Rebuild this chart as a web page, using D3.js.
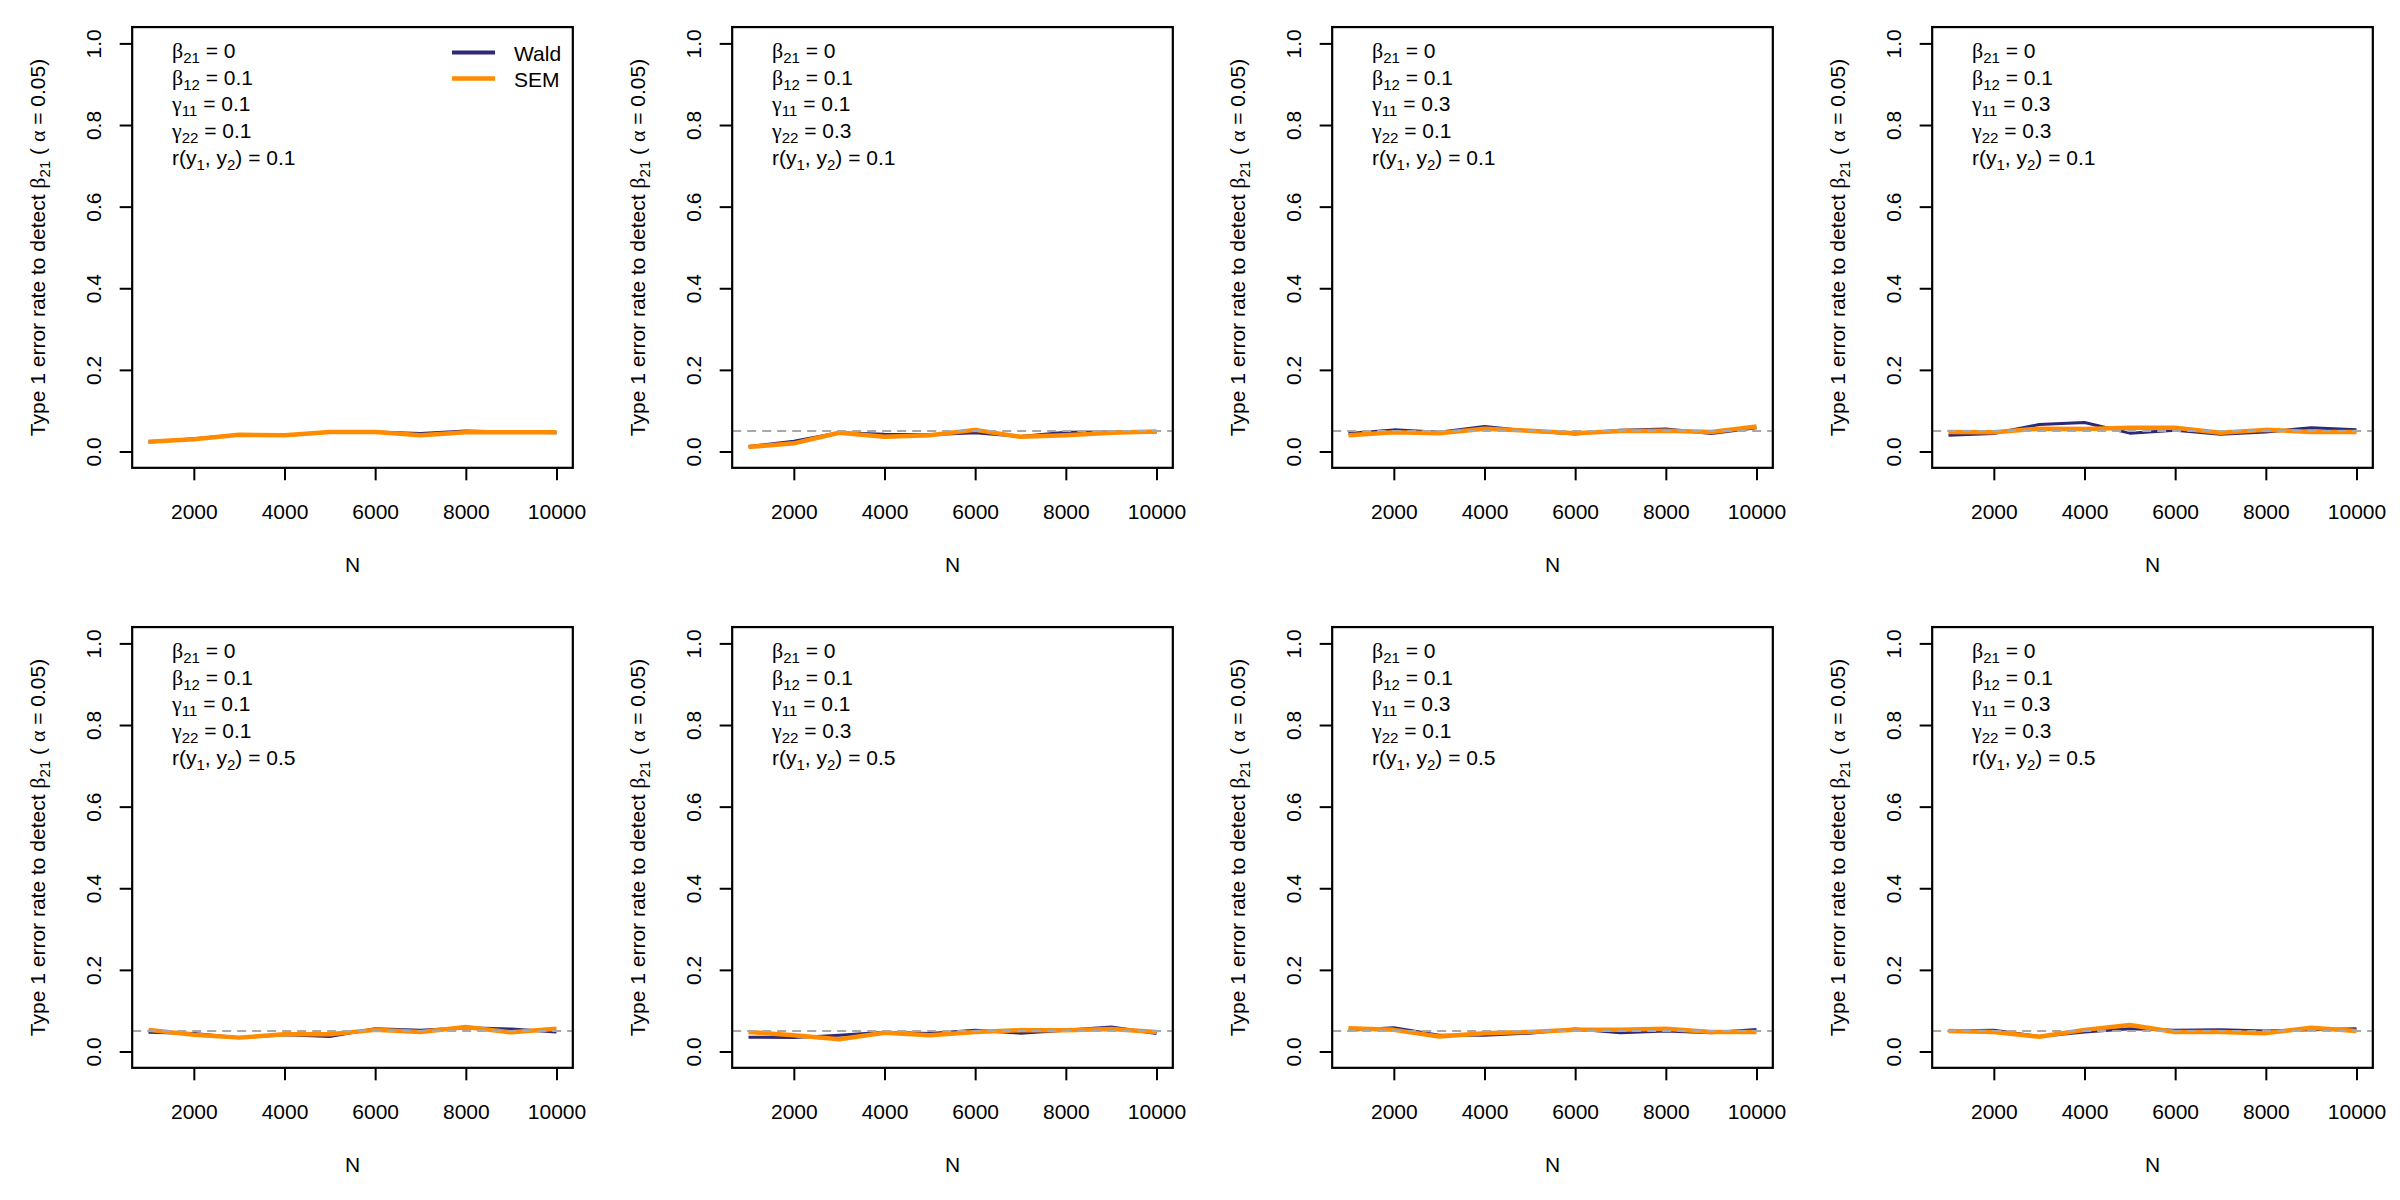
<!DOCTYPE html>
<html>
<head>
<meta charset="utf-8">
<script src="https://cdn.jsdelivr.net/npm/d3@7"></script>
<style>
  html, body { margin: 0; padding: 0; background: #fff; }
  svg { display: block; font-family: "Liberation Sans", Arial, sans-serif; }
  .greek { font-family: "Liberation Serif", "DejaVu Serif", serif; }
</style>
</head>
<body>
<svg id="chart" width="2400" height="1200"></svg>
<script>
// ---- data ----
const sampleSizes = [1000, 2000, 3000, 4000, 5000, 6000, 7000, 8000, 9000, 10000];
const xTickValues = [2000, 4000, 6000, 8000, 10000];
const yTickValues = [0, 0.2, 0.4, 0.6, 0.8, 1.0];

const wald1 = [0.023, 0.031, 0.041, 0.039, 0.048, 0.048, 0.044, 0.050, 0.048, 0.046];
const sem1  = [0.024, 0.030, 0.041, 0.040, 0.048, 0.048, 0.040, 0.047, 0.047, 0.047];
const wald2 = [0.012, 0.025, 0.046, 0.042, 0.041, 0.046, 0.037, 0.047, 0.048, 0.048];
const sem2  = [0.011, 0.020, 0.046, 0.036, 0.040, 0.053, 0.036, 0.040, 0.046, 0.049];
const wald3 = [0.044, 0.053, 0.047, 0.061, 0.050, 0.043, 0.052, 0.055, 0.044, 0.058];
const sem3  = [0.040, 0.047, 0.045, 0.056, 0.051, 0.045, 0.050, 0.051, 0.048, 0.061];
const wald4 = [0.040, 0.044, 0.066, 0.071, 0.045, 0.052, 0.042, 0.048, 0.058, 0.053];
const sem4  = [0.048, 0.047, 0.056, 0.055, 0.058, 0.058, 0.046, 0.053, 0.048, 0.048];
const wald5 = [0.047, 0.044, 0.034, 0.041, 0.037, 0.056, 0.052, 0.058, 0.055, 0.048];
const sem5  = [0.053, 0.041, 0.034, 0.042, 0.042, 0.053, 0.048, 0.060, 0.047, 0.056];
const wald6 = [0.035, 0.034, 0.040, 0.047, 0.044, 0.052, 0.045, 0.052, 0.060, 0.044];
const sem6  = [0.048, 0.040, 0.030, 0.046, 0.040, 0.048, 0.052, 0.052, 0.055, 0.048];
const wald7 = [0.052, 0.058, 0.040, 0.040, 0.045, 0.055, 0.046, 0.050, 0.046, 0.054];
const sem7  = [0.057, 0.053, 0.037, 0.045, 0.048, 0.053, 0.053, 0.056, 0.048, 0.048];
const wald8 = [0.050, 0.052, 0.037, 0.048, 0.056, 0.052, 0.053, 0.050, 0.053, 0.056];
const sem8  = [0.050, 0.048, 0.036, 0.053, 0.065, 0.048, 0.048, 0.045, 0.058, 0.050];

const waldSeries = [wald1, wald2, wald3, wald4, wald5, wald6, wald7, wald8];
const semSeries  = [sem1, sem2, sem3, sem4, sem5, sem6, sem7, sem8];

const beta21Values = ["0", "0", "0", "0", "0", "0", "0", "0"];
const beta12Values = ["0.1", "0.1", "0.1", "0.1", "0.1", "0.1", "0.1", "0.1"];
const gamma11Values = ["0.1", "0.1", "0.3", "0.3", "0.1", "0.1", "0.3", "0.3"];
const gamma22Values = ["0.1", "0.3", "0.1", "0.3", "0.1", "0.3", "0.1", "0.3"];
const corrValues = ["0.1", "0.1", "0.1", "0.1", "0.5", "0.5", "0.5", "0.5"];
const showReference = [false, true, true, true, true, true, true, true];
const alphaLevel = 0.05;

const legendLabels = ["Wald", "SEM"];
const WALD_COLOR = "#2e2878";
const SEM_COLOR = "#ff8c00";

// ---- layout ----
const svg = d3.select("#chart");
const panelW = 600, panelH = 600;
const FS = 21, SUB = 15;

const x = d3.scaleLinear().domain([1000, 10000]).range([148.5, 556.5]);
const y = d3.scaleLinear().domain([0, 1]).range([451.5, 43.4]);
const xPad = (10000 - 1000) * 0.04, yPad = 0.04;
const boxL = x(1000 - xPad), boxR = x(10000 + xPad);
const boxT = y(1 + yPad), boxB = y(0 - yPad);

function addSubText(sel, parts) {
  // parts: array of [text, kind] where kind: 0 normal, 1 subscript, 2 greek
  let shifted = false;
  parts.forEach(([t, kind]) => {
    const ts = sel.append("tspan").text(t);
    if (kind === 2) ts.attr("class", "greek").attr("font-size", FS + 1);
    if (kind === 1) {
      ts.attr("font-size", SUB);
      if (!shifted) { ts.attr("dy", 5); shifted = true; }
    } else if (shifted) { ts.attr("dy", -5); shifted = false; }
  });
}

for (let i = 0; i < 8; i++) {
  const col = i % 4, row = Math.floor(i / 4);
  const g = svg.append("g").attr("transform", `translate(${col * panelW},${row * panelH})`);

  const line = d3.line().x((d, j) => x(sampleSizes[j])).y(d => y(d));

  g.append("path").datum(waldSeries[i])
    .attr("d", line).attr("fill", "none")
    .attr("stroke", WALD_COLOR).attr("stroke-width", 3).attr("stroke-linejoin", "round");
  g.append("path").datum(semSeries[i])
    .attr("d", line).attr("fill", "none")
    .attr("stroke", SEM_COLOR).attr("stroke-width", 4.5).attr("stroke-linejoin", "round");

  if (showReference[i]) {
    g.append("line")
      .attr("x1", boxL).attr("x2", boxR)
      .attr("y1", y(alphaLevel)).attr("y2", y(alphaLevel))
      .attr("stroke", "#a8a8a8").attr("stroke-width", 2)
      .attr("stroke-dasharray", "9,6");
  }

  // box
  g.append("rect").attr("x", boxL).attr("y", boxT)
    .attr("width", boxR - boxL).attr("height", boxB - boxT)
    .attr("fill", "none").attr("stroke", "#000").attr("stroke-width", 2.2);

  // y axis
  const yAxis = g.append("g").attr("transform", `translate(${boxL},0)`)
    .call(d3.axisLeft(y).tickValues(yTickValues).tickFormat(d3.format(".1f")).tickSize(12.5));
  yAxis.select(".domain").remove();
  yAxis.selectAll("line").attr("stroke", "#000").attr("stroke-width", 2);
  yAxis.selectAll("text")
    .attr("x", 0).attr("dy", 0).attr("text-anchor", "middle")
    .attr("transform", "translate(-31.5,0) rotate(-90)")
    .attr("font-size", FS).attr("fill", "#000")
    .attr("font-family", "Liberation Sans, Arial, sans-serif");

  // x axis
  const xAxis = g.append("g").attr("transform", `translate(0,${boxB})`)
    .call(d3.axisBottom(x).tickValues(xTickValues).tickFormat(d3.format("d")).tickSize(12.5));
  xAxis.select(".domain").remove();
  xAxis.selectAll("line").attr("stroke", "#000").attr("stroke-width", 2);
  xAxis.selectAll("text")
    .attr("y", 51).attr("dy", 0)
    .attr("font-size", FS).attr("fill", "#000")
    .attr("font-family", "Liberation Sans, Arial, sans-serif");

  // x title
  g.append("text").attr("x", (boxL + boxR) / 2).attr("y", 572)
    .attr("text-anchor", "middle").attr("font-size", FS).text("N");

  // y title
  const yt = g.append("text")
    .attr("transform", `translate(45,${(boxT + boxB) / 2}) rotate(-90)`)
    .attr("text-anchor", "middle").attr("font-size", FS);
  addSubText(yt, [["Type 1 error rate to detect ", 0], ["\u03B2", 2], ["21", 1], [" ( ", 0], ["\u03B1", 2], [" = 0.05)", 0]]);

  // annotations
  const annX = 172, ann0 = 58, annStep = 26.7;
  const annLines = [
    [["\u03B2", 2], ["21", 1], [" = " + beta21Values[i], 0]],
    [["\u03B2", 2], ["12", 1], [" = " + beta12Values[i], 0]],
    [["\u03B3", 2], ["11", 1], [" = " + gamma11Values[i], 0]],
    [["\u03B3", 2], ["22", 1], [" = " + gamma22Values[i], 0]],
    [["r(y", 0], ["1", 1], [", y", 0], ["2", 1], [") = " + corrValues[i], 0]]
  ];
  annLines.forEach((parts, k) => {
    const t = g.append("text").attr("x", annX).attr("y", ann0 + k * annStep).attr("font-size", FS);
    addSubText(t, parts);
  });

  // legend (first panel only)
  if (i === 0) {
    const legColors = [WALD_COLOR, SEM_COLOR];
    const legWidths = [4, 4.5];
    legendLabels.forEach((lab, k) => {
      const ly = 52.5 + k * 26;
      g.append("line").attr("x1", 452).attr("x2", 495).attr("y1", ly).attr("y2", ly)
        .attr("stroke", legColors[k]).attr("stroke-width", legWidths[k]);
      g.append("text").attr("x", 514).attr("y", ly + 8).attr("font-size", FS).text(lab);
    });
  }
}
</script>
</body>
</html>
